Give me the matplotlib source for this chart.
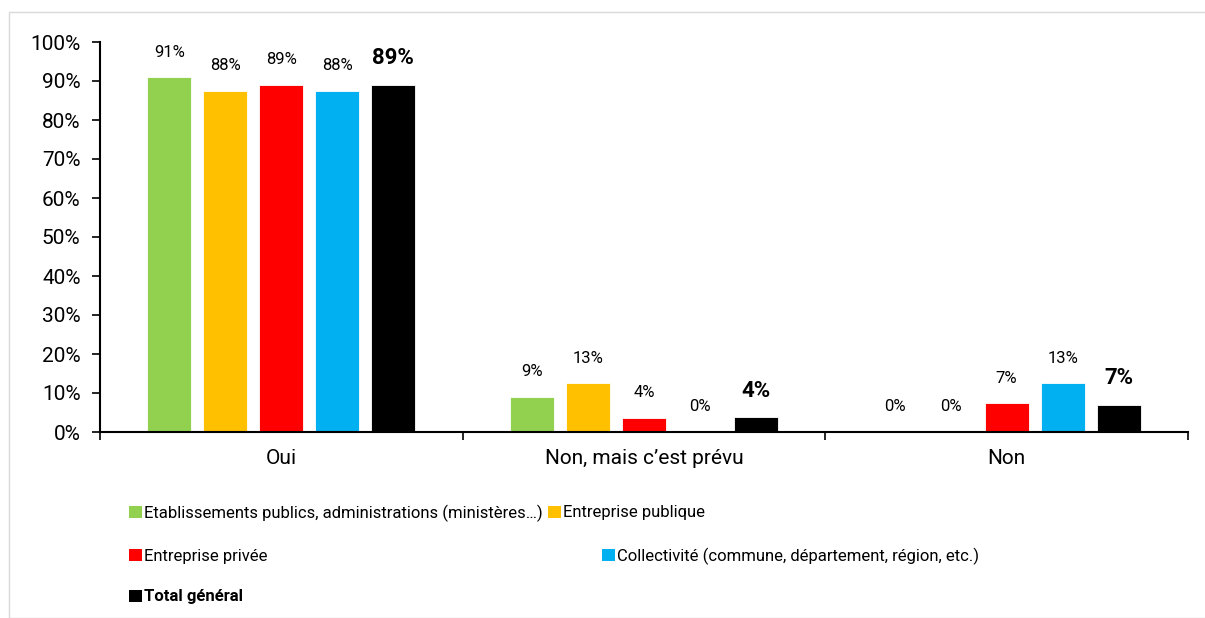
import matplotlib
matplotlib.use("Agg")
import matplotlib.pyplot as plt
from matplotlib.patches import Rectangle, Patch
import numpy as np

plt.rcParams['font.family'] = ['Roboto', 'DejaVu Sans']

categories = ["Oui", "Non, mais c\u2019est prévu", "Non"]
series = [
    "Etablissements publics, administrations (ministères\u2026)",
    "Entreprise publique",
    "Entreprise privée",
    "Collectivité (commune, département, région, etc.)",
    "Total général",
]
colors = ["#92D050", "#FFC000", "#FF0000", "#00B0F0", "#000000"]
values = [
    [91.0, 9.0, 0.0],
    [87.5, 12.5, 0.0],
    [89.0, 3.6, 7.4],
    [87.5, 0.0, 12.5],
    [89.0, 3.8, 6.9],
]
labels = [
    ["91%", "9%", "0%"],
    ["88%", "13%", "0%"],
    ["89%", "4%", "7%"],
    ["88%", "0%", "13%"],
    ["89%", "4%", "7%"],
]
yticks = [0, 10, 20, 30, 40, 50, 60, 70, 80, 90, 100]
ytick_labels = ["0%", "10%", "20%", "30%", "40%", "50%", "60%", "70%", "80%", "90%", "100%"]

W, H = 1205, 618
fig = plt.figure(figsize=(W / 100, H / 100), dpi=100)
ax = fig.add_axes([100 / W, 1 - 432 / H, (1188 - 100) / W, (432 - 42) / H])

x = np.arange(len(categories))
pitch = 56 / 363
bw = 44 / 363
for i, (vals, col) in enumerate(zip(values, colors)):
    xs = x + (i - 2) * pitch
    ax.bar(xs, vals, width=bw, color=col, edgecolor="white", linewidth=0.6)
    for xi, v, lab in zip(xs, vals, labels[i]):
        if i == 4:
            ax.text(xi, v + 4.0, lab, ha="center", va="bottom", fontsize=16,
                    fontweight="bold")
        else:
            ax.text(xi, v + 4.5, lab, ha="center", va="bottom", fontsize=12)

ax.set_xlim(-0.5, len(categories) - 0.5)
ax.set_ylim(0, 100)
ax.set_yticks(yticks)
ax.set_yticklabels(ytick_labels, fontsize=15)
ax.set_xticks(np.arange(len(categories) + 1) - 0.5)
ax.set_xticklabels([])
ax.set_xticks(x, minor=True)
ax.set_xticklabels(categories, minor=True, fontsize=15)
ax.tick_params(axis="x", which="minor", length=0, pad=12)
ax.tick_params(axis="x", which="major", length=6, width=1.2, direction="out")
ax.tick_params(axis="y", length=6, width=1.2, direction="out", pad=8)
for s in ["top", "right"]:
    ax.spines[s].set_visible(False)
for s in ["left", "bottom"]:
    ax.spines[s].set_linewidth(1.5)

# Legend entries placed like the Excel layout
positions = [(137, 513), (556, 513), (137, 556), (610, 556), (137, 597)]
for i, (name, col) in enumerate(zip(series, colors)):
    px, py = positions[i]
    leg = fig.legend(handles=[Patch(facecolor=col, edgecolor="none")], labels=[name],
                     loc="center left", bbox_to_anchor=(px / W - 0.012, 1 - py / H),
                     frameon=False, fontsize=12, handlelength=0.75, handleheight=0.75,
                     handletextpad=0.15, borderpad=0.4, borderaxespad=0)
    if i == 4:
        for t in leg.get_texts():
            t.set_fontweight("bold")

# light frame
fig.patches.append(Rectangle((9 / W, 0), 1 - 9 / W + 0.01, 1 - 12 / H, transform=fig.transFigure,
                             fill=False, edgecolor="#D9D9D9", linewidth=1.0))

fig.savefig("out.png", dpi=100)
